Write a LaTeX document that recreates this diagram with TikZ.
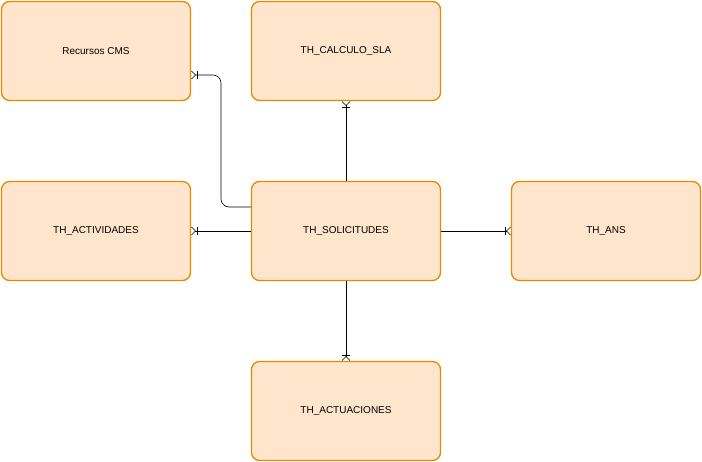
\documentclass[tikz,border=0pt]{standalone}
\usepackage{fontspec}
\setmainfont{Liberation Sans}
\usetikzlibrary{arrows.meta}
\begin{document}
\begin{tikzpicture}[x=1pt,y=-1pt,
  ent/.style={draw=orange!80!yellow!90!black,line width=1.3pt,fill=orange!20!white,rounded corners=8pt,minimum width=189pt,minimum height=99pt,font=\fontsize{10}{12}\selectfont},
  rel/.style={draw=black,line width=0.6pt,-{Bar[width=8pt,sep=1pt]Straight Barb[reversed,length=4pt,width=8pt]}}]
\useasboundingbox (0,0) rectangle (702,462);
\node[ent] (rec) at (96,51) {Recursos CMS};
\node[ent] (calc) at (346,51) {TH\_CALCULO\_SLA};
\node[ent] (act) at (96,231) {TH\_ACTIVIDADES};
\node[ent] (sol) at (346,231) {TH\_SOLICITUDES};
\node[ent] (ans) at (606,231) {TH\_ANS};
\node[ent] (actu) at (346,411) {TH\_ACTUACIONES};
\draw[rel,rounded corners=8pt] (sol.west|-0,207) -| (221,75) -- (rec.east|-0,75);
\draw[rel] (sol.north) -- (calc.south);
\draw[rel] (sol.west) -- (act.east);
\draw[rel] (sol.east) -- (ans.west);
\draw[rel] (sol.south) -- (actu.north);
\end{tikzpicture}
\end{document}
